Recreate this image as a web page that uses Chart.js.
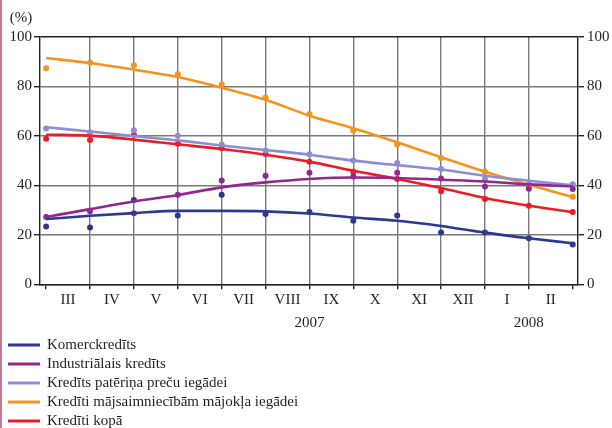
<!DOCTYPE html>
<html><head><meta charset="utf-8">
<script src="https://cdn.jsdelivr.net/npm/chart.js@4.4.1/dist/chart.umd.min.js"></script>
<style>
html,body{margin:0;padding:0;background:#fff;}
#wrap{position:relative;width:612px;height:428px;}
</style></head><body>
<div id="wrap"><canvas id="c" width="612" height="428"></canvas></div>
<script>
// ---- data ----
const months = ['III','IV','V','VI','VII','VIII','IX','X','XI','XII','I','II'];
const yearLabels = ['2007','2008'];
const yearPositions = [6, 11];
const yTicks = [0, 20, 40, 60, 80, 100];
const seriesNames = ['Komerckredīts','Industriālais kredīts','Kredīts patēriņa preču iegādei','Kredīti mājsaimniecībām mājokļa iegādei','Kredīti kopā'];

const komercPts     = [23.4, 23.0, 34.1, 27.8, 36.2, 28.4, 29.2, 25.7, 27.8, 20.9, 20.9, 18.6, 16.1];
const industrialPts = [27.2, 29.5, 28.7, 36.2, 42.0, 43.9, 45.1, 43.6, 45.1, 42.8, 39.5, 38.6, 38.5];
const paterinaPts   = [63.0, 61.5, 62.3, 60.1, 56.5, 54.1, 52.6, 50.1, 49.1, 46.6, 42.6, 40.5, 40.5];
const majokluPts    = [87.4, 89.7, 88.6, 85.0, 80.8, 75.5, 68.9, 62.2, 56.5, 51.1, 45.5, 39.8, 35.4];
const kopaPts       = [58.9, 58.4, 60.5, 56.8, 55.0, 52.7, 49.6, 45.5, 42.6, 37.6, 34.5, 31.8, 29.2];

const komercTrend     = [26.4, 27.7, 28.8, 29.7, 29.7, 29.5, 28.6, 27.0, 25.7, 23.6, 20.9, 18.6, 16.6];
const industrialTrend = [27.2, 30.4, 33.5, 36.1, 39.2, 41.2, 42.6, 43.2, 43.0, 42.3, 41.6, 40.4, 39.6];
const paterinaTrend   = [63.5, 61.8, 59.9, 58.2, 56.1, 54.3, 52.4, 50.0, 48.2, 46.4, 43.9, 41.9, 40.0];
const majokluTrend    = [91.5, 89.5, 86.8, 83.8, 79.5, 74.6, 68.2, 63.1, 57.4, 51.4, 45.5, 40.3, 35.3];
const kopaTrend       = [60.5, 60.1, 58.5, 56.6, 54.7, 52.4, 49.6, 45.9, 42.6, 38.9, 34.9, 31.8, 29.2];

// ---- styling ----
const colors = ['#2b3990', '#92278f', '#8c8ed4', '#f7941d', '#ed1c24'];
const FONT = 'Liberation Serif, Times New Roman, serif';
const TXT = '#231f20';

const pointsAll = [komercPts, industrialPts, paterinaPts, majokluPts, kopaPts];
const trendsAll = [komercTrend, industrialTrend, paterinaTrend, majokluTrend, kopaTrend];
const toXY = arr => arr.map((v, i) => ({x: i, y: v}));

const datasets = [];
trendsAll.forEach((t, k) => datasets.push({
  type: 'line', label: seriesNames[k], data: toXY(t),
  borderColor: colors[k], borderWidth: 2.6, pointRadius: 0, tension: 0.4,
  cubicInterpolationMode: 'monotone', fill: false
}));
pointsAll.forEach((p, k) => datasets.push({
  type: 'scatter', label: seriesNames[k] + ' (dati)', data: toXY(p),
  backgroundColor: colors[k], borderColor: colors[k], borderWidth: 0,
  pointRadius: 3, showLine: false
}));

const decor = {
  id: 'decor',
  afterDraw(chart) {
    const ctx = chart.ctx;
    const xs = chart.scales.x;
    ctx.save();
    // left pink rule
    ctx.fillStyle = '#c27a98';
    ctx.fillRect(0, 0, 2, 428);
    ctx.fillStyle = TXT;
    ctx.font = '15px ' + FONT;
    ctx.textAlign = 'center';
    ctx.textBaseline = 'middle';
    months.forEach((m, i) => ctx.fillText(m, xs.getPixelForValue(i + 0.5), 300));
    yearLabels.forEach((y, i) => ctx.fillText(y, xs.getPixelForValue(yearPositions[i]), 323));
    ctx.fillText('(%)', 21, 18);
    // legend
    ctx.textAlign = 'left';
    seriesNames.forEach((n, k) => {
      const yy = 345 + k * 19;
      ctx.strokeStyle = colors[k];
      ctx.lineWidth = 3;
      ctx.beginPath(); ctx.moveTo(8, yy); ctx.lineTo(40, yy); ctx.stroke();
      ctx.fillStyle = TXT;
      ctx.fillText(n, 47, yy);
    });
    ctx.restore();
  }
};

new Chart(document.getElementById('c'), {
  data: { datasets },
  options: {
    responsive: false, animation: false,
    layout: { padding: { top: 37, left: 0, right: 0, bottom: 0 } },
    plugins: { legend: { display: false }, tooltip: { enabled: false } },
    scales: {
      x: {
        type: 'linear', min: -0.14, max: 12.12,
        afterBuildTicks: s => { s.ticks = months.concat(['']).map((_, i) => ({ value: i })); },
        ticks: { display: false },
        grid: {
          color: c => (c.tick && (c.tick.value === 0 || c.tick.value === 12)) ? 'rgba(0,0,0,0)' : '#7a7a7a',
          tickColor: '#222', tickLength: 5, lineWidth: 1.4
        },
        border: { color: '#222', width: 1.4 },
        afterFit: s => { s.height = 143.7; }
      },
      y: {
        position: 'left', min: 0, max: 100,
        afterBuildTicks: s => { s.ticks = yTicks.map(v => ({ value: v })); },
        ticks: { font: { family: FONT, size: 15 }, color: TXT, padding: 2 },
        grid: {
          color: c => (c.tick && c.tick.value === 100) ? '#222' : '#7a7a7a',
          tickColor: '#222', tickLength: 6, lineWidth: 1.4
        },
        border: { color: '#222', width: 1.4 },
        afterFit: s => { s.width = 40; }
      },
      y2: {
        position: 'right', min: 0, max: 100,
        afterBuildTicks: s => { s.ticks = yTicks.map(v => ({ value: v })); },
        ticks: { font: { family: FONT, size: 15 }, color: TXT, padding: 3 },
        grid: { drawOnChartArea: false, tickColor: '#222', tickLength: 6, lineWidth: 1.4 },
        border: { color: '#222', width: 1.4 },
        afterFit: s => { s.width = 34; }
      }
    }
  },
  plugins: [decor]
});
</script>
</body></html>
